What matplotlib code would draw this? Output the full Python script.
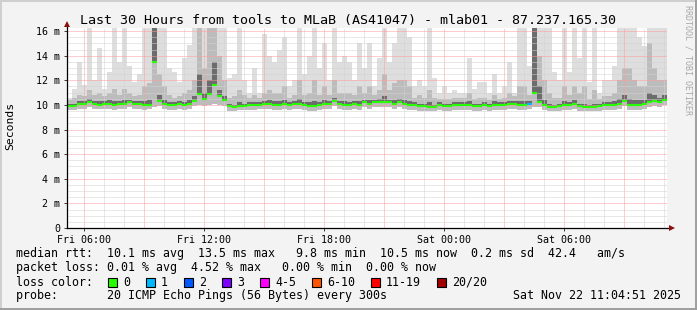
import numpy as np
import matplotlib
matplotlib.use('Agg')
import matplotlib.pyplot as plt
from matplotlib.patches import Rectangle

plt.rcParams['font.family'] = ['DejaVu Sans Mono']

# 15 minute steps over the last 30 hours (hours counted from Fri 00:00)
t_start = 5.135
step = 0.25

median = [9.9, 9.9, 10.1, 10.1, 10.2, 10.1, 10.0, 10.1, 10.1, 10.0, 10.1, 10.1, 10.2, 10.1, 10.1, 10.0, 10.0, 13.5, 10.3, 10.1,
          10.0, 10.0, 10.1, 10.0, 10.1, 10.3, 10.9, 10.5, 10.9, 11.6, 10.7, 10.4, 9.9, 9.8, 9.9, 9.9, 10.0, 10.0, 10.0, 10.1,
          10.1, 10.0, 10.0, 10.1, 10.0, 10.1, 10.1, 10.0, 9.9, 9.9, 10.0, 10.1, 10.1, 10.3, 10.1, 10.0, 10.0, 10.1, 10.0, 10.2,
          10.1, 10.2, 10.2, 10.2, 10.2, 10.1, 10.2, 10.1, 10.0, 10.0, 9.9, 9.9, 9.8, 9.8, 10.0, 9.9, 9.9, 10.0, 10.0, 10.0,
          10.0, 9.9, 9.9, 10.0, 9.9, 10.0, 10.0, 10.0, 10.1, 10.1, 10.0, 10.0, 10.1, 11.0, 10.2, 10.0, 9.8, 9.8, 9.9, 10.0,
          10.0, 10.1, 9.9, 9.8, 9.8, 9.8, 9.9, 10.0, 10.0, 10.0, 10.1, 10.3, 10.0, 10.0, 10.0, 10.1, 10.2, 10.3, 10.2, 10.4]

smoke_max = [10.6, 11.3, 13.5, 11.6, 16.5, 12.0, 14.6, 11.3, 12.7, 16.5, 13.5, 16.5, 13.2, 11.9, 12.5, 16.5, 16.5, 16.5, 16.5, 16.5,
             13.0, 12.7, 11.9, 13.8, 14.9, 16.5, 16.5, 16.5, 16.5, 16.5, 16.5, 16.5, 12.2, 12.5, 16.5, 12.0, 11.0, 13.0, 11.0, 15.8,
             14.0, 13.5, 14.5, 15.5, 11.5, 12.0, 16.5, 12.5, 14.0, 16.5, 13.0, 15.0, 12.0, 16.5, 13.5, 14.0, 13.5, 12.0, 15.0, 13.0,
             15.0, 11.5, 13.8, 16.5, 13.5, 15.0, 16.5, 16.5, 15.5, 11.5, 12.0, 11.5, 16.5, 12.2, 11.0, 11.5, 11.0, 11.2, 11.0, 11.0,
             13.8, 11.3, 11.9, 11.9, 11.0, 12.5, 11.0, 11.5, 13.5, 11.0, 16.5, 16.5, 13.2, 16.5, 16.5, 16.5, 16.5, 12.7, 12.0, 16.5,
             12.7, 16.5, 13.8, 16.5, 11.9, 16.5, 11.0, 12.0, 12.0, 13.2, 16.5, 16.5, 16.5, 16.5, 15.5, 14.8, 16.5, 16.5, 16.5, 16.5]

smoke_mid = [10.4, 10.6, 10.8, 10.7, 11.2, 10.8, 11.0, 10.7, 11.0, 11.3, 10.8, 11.3, 11.0, 10.7, 10.8, 11.5, 11.8, 16.5, 12.5, 11.5,
             10.8, 10.6, 10.7, 11.0, 11.2, 12.0, 16.5, 13.0, 16.5, 16.5, 14.0, 12.0, 10.6, 10.7, 11.2, 10.8, 10.6, 10.8, 10.6, 11.0,
             11.2, 11.0, 11.0, 11.5, 10.6, 10.8, 12.0, 10.8, 11.0, 12.0, 10.8, 11.5, 10.8, 12.0, 11.0, 11.0, 11.0, 10.8, 11.5, 11.0,
             11.5, 10.8, 11.2, 12.5, 11.2, 11.8, 12.0, 12.0, 11.5, 10.6, 10.8, 10.6, 11.2, 10.6, 10.5, 10.5, 10.5, 10.6, 10.6, 10.6,
             11.0, 10.5, 10.6, 10.6, 10.4, 10.8, 10.5, 10.6, 11.0, 10.7, 11.5, 11.5, 10.8, 16.5, 14.0, 12.0, 11.0, 10.6, 10.6, 11.5,
             10.8, 11.5, 11.0, 11.5, 10.5, 11.2, 10.5, 10.7, 10.7, 11.0, 12.0, 13.0, 13.0, 12.0, 11.5, 11.5, 15.0, 13.0, 12.0, 12.0]

smoke_core = [10.1, 10.1, 10.3, 10.3, 10.5, 10.3, 10.3, 10.3, 10.4, 10.3, 10.3, 10.4, 10.4, 10.3, 10.3, 10.3, 10.4, 16.5, 10.8, 10.4,
              10.2, 10.2, 10.3, 10.2, 10.4, 10.7, 12.5, 11.0, 12.0, 13.5, 11.2, 10.7, 10.1, 10.0, 10.2, 10.1, 10.2, 10.2, 10.2, 10.3,
              10.4, 10.3, 10.3, 10.4, 10.2, 10.3, 10.5, 10.2, 10.2, 10.3, 10.2, 10.4, 10.3, 10.6, 10.3, 10.3, 10.2, 10.3, 10.3, 10.4,
              10.4, 10.4, 10.5, 10.7, 10.4, 10.4, 10.5, 10.4, 10.3, 10.2, 10.1, 10.1, 10.2, 10.0, 10.2, 10.1, 10.1, 10.2, 10.2, 10.2,
              10.3, 10.1, 10.1, 10.2, 10.1, 10.3, 10.2, 10.2, 10.3, 10.3, 10.3, 10.3, 10.3, 16.5, 11.5, 10.4, 10.1, 10.0, 10.1, 10.3,
              10.2, 10.4, 10.1, 10.1, 10.0, 10.1, 10.1, 10.2, 10.2, 10.3, 10.5, 10.8, 10.5, 10.4, 10.4, 10.4, 11.0, 10.8, 10.6, 10.8]

smoke_min = [9.6, 9.6, 9.7, 9.7, 9.8, 9.7, 9.7, 9.7, 9.7, 9.6, 9.7, 9.7, 9.8, 9.7, 9.7, 9.6, 9.7, 9.8, 9.9, 9.7,
             9.6, 9.6, 9.7, 9.6, 9.7, 9.9, 10.0, 9.9, 10.0, 10.1, 10.0, 9.9, 9.5, 9.5, 9.6, 9.6, 9.6, 9.6, 9.7, 9.7,
             9.7, 9.6, 9.6, 9.7, 9.6, 9.7, 9.7, 9.6, 9.5, 9.5, 9.6, 9.7, 9.7, 9.9, 9.7, 9.6, 9.6, 9.7, 9.6, 9.8,
             9.7, 9.8, 9.8, 9.8, 9.8, 9.7, 9.8, 9.7, 9.6, 9.6, 9.5, 9.5, 9.5, 9.5, 9.6, 9.5, 9.5, 9.6, 9.6, 9.6,
             9.6, 9.5, 9.5, 9.6, 9.5, 9.6, 9.6, 9.6, 9.7, 9.7, 9.6, 9.6, 9.7, 9.8, 9.8, 9.6, 9.5, 9.5, 9.5, 9.6,
             9.6, 9.7, 9.5, 9.5, 9.5, 9.5, 9.5, 9.6, 9.6, 9.6, 9.7, 9.9, 9.6, 9.6, 9.6, 9.7, 9.8, 9.9, 9.8, 10.0]

# lost pings out of 20 per step (index into loss legend)
loss_idx = [0]*92 + [1] + [0]*27

loss_labels = ['0', '1', '2', '3', '4-5', '6-10', '11-19', '20/20']
loss_colors = ['#26ff00', '#00b8ff', '#0059ff', '#7e00ff', '#ff00ff', '#ff5500', '#ff0000', '#a00000']

xtick_hours = [6, 12, 18, 24, 30]
xtick_labels = ['Fri 06:00', 'Fri 12:00', 'Fri 18:00', 'Sat 00:00', 'Sat 06:00']
ytick_vals = [0, 2, 4, 6, 8, 10, 12, 14, 16]
ytick_labels = ['0', '2 m', '4 m', '6 m', '8 m', '10 m', '12 m', '14 m', '16 m']

title = 'Last 30 Hours from tools to MLaB (AS41047) - mlab01 - 87.237.165.30'
line_rtt = 'median rtt:  10.1 ms avg  13.5 ms max   9.8 ms min  10.5 ms now  0.2 ms sd  42.4   am/s'
line_loss = 'packet loss: 0.01 % avg  4.52 % max   0.00 % min  0.00 % now'
line_probe = 'probe:       20 ICMP Echo Pings (56 Bytes) every 300s'
stamp = 'Sat Nov 22 11:04:51 2025'

W, H = 697, 310
fig = plt.figure(figsize=(W/100, H/100), dpi=100, facecolor='#f3f3f3')

ax = fig.add_axes([67/W, 82/H, 600/W, 200/H])
ax.set_facecolor('white')
edges = t_start + step*np.arange(len(median)+1)
t_end = edges[-1]
ax.set_xlim(t_start, t_end)
ax.set_ylim(0, 16.25)

# smoke: light spread, medium spread, dark band just above the median
ax.stairs(smoke_max, edges, baseline=smoke_min, fill=True, color='#dedede', lw=0, zorder=1)
ax.stairs(smoke_mid, edges, baseline=smoke_min, fill=True, color='#bcbcbc', lw=0, zorder=1.1)
ax.stairs(smoke_core, edges, baseline=median, fill=True, color='#6c6c6c', lw=0, zorder=1.2)

# grid
dot = (0, (1, 1))
for h in range(int(np.ceil(t_start)), int(t_end)+1):
    c = '#ff9c9c' if h % 3 == 0 else '#d2d2d2'
    ax.axvline(h, color=c, lw=0.72, ls=dot, zorder=2)
for v in np.arange(0.5, 16.1, 0.5):
    c = '#ff9c9c' if v % 2 == 0 else '#d2d2d2'
    ax.axhline(v, color=c, lw=0.72, ls=dot, zorder=2)

# median, coloured by loss
ax.hlines(median, edges[:-1], edges[1:], colors=[loss_colors[i] for i in loss_idx], lw=1.5, zorder=4)

for s in ax.spines.values():
    s.set_visible(False)
ax.set_xticks(xtick_hours)
ax.set_xticklabels(xtick_labels, fontsize=7.2)
ax.set_yticks(ytick_vals)
ax.set_yticklabels(ytick_labels, fontsize=7.2)
ax.tick_params(axis='both', length=2, width=0.72, color='#404040', pad=3)

# overlay in pixel coordinates
ov = fig.add_axes([0, 0, 1, 1])
ov.set_xlim(0, W); ov.set_ylim(H, 0)
ov.axis('off')
ov.patch.set_visible(False)

# frame shades
ov.plot([0.5, W-0.5], [0.5, 0.5], color='#cfcfcf', lw=1.4)
ov.plot([0.5, 0.5], [0.5, H-0.5], color='#cfcfcf', lw=1.4)
ov.plot([0.5, W-1], [H-1, H-1], color='#9e9e9e', lw=1.4)
ov.plot([W-1, W-1], [0.5, H-1], color='#9e9e9e', lw=1.4)

# axes with arrows
ov.plot([67, 671], [228, 228], color='black', lw=0.9)
ov.plot([67, 67], [228, 25], color='black', lw=0.9)
ov.plot([672], [228], marker='>', color='#8b1010', ms=4, mew=0)
ov.plot([67], [24], marker='^', color='#8b1010', ms=4, mew=0)

ov.text(348, 24, title, ha='center', va='baseline', fontsize=9.6, color='black')
ov.text(10, 126, 'Seconds', ha='center', va='center', rotation=90, fontsize=8.2)
ov.text(688, 60, 'RRDTOOL / TOBI OETIKER', ha='center', va='center', rotation=270,
        fontsize=6, color='#a8a8a8')

fs = 8.4
ov.text(16, 257.5, line_rtt, ha='left', va='baseline', fontsize=fs)
ov.text(16, 271.5, line_loss, ha='left', va='baseline', fontsize=fs)
ov.text(16, 285.5, 'loss color:', ha='left', va='baseline', fontsize=fs)
x = 108
for lab, col in zip(loss_labels, loss_colors):
    ov.add_patch(Rectangle((x, 277.5), 9, 9, facecolor=col, edgecolor='black', lw=0.8))
    ov.text(x+15, 285.5, lab, ha='left', va='baseline', fontsize=fs)
    x += 15 + 7*len(lab) + 16
ov.text(16, 299.3, line_probe, ha='left', va='baseline', fontsize=fs)
ov.text(681, 299.3, stamp, ha='right', va='baseline', fontsize=fs)

fig.savefig('out.png', dpi=100, facecolor=fig.get_facecolor())
